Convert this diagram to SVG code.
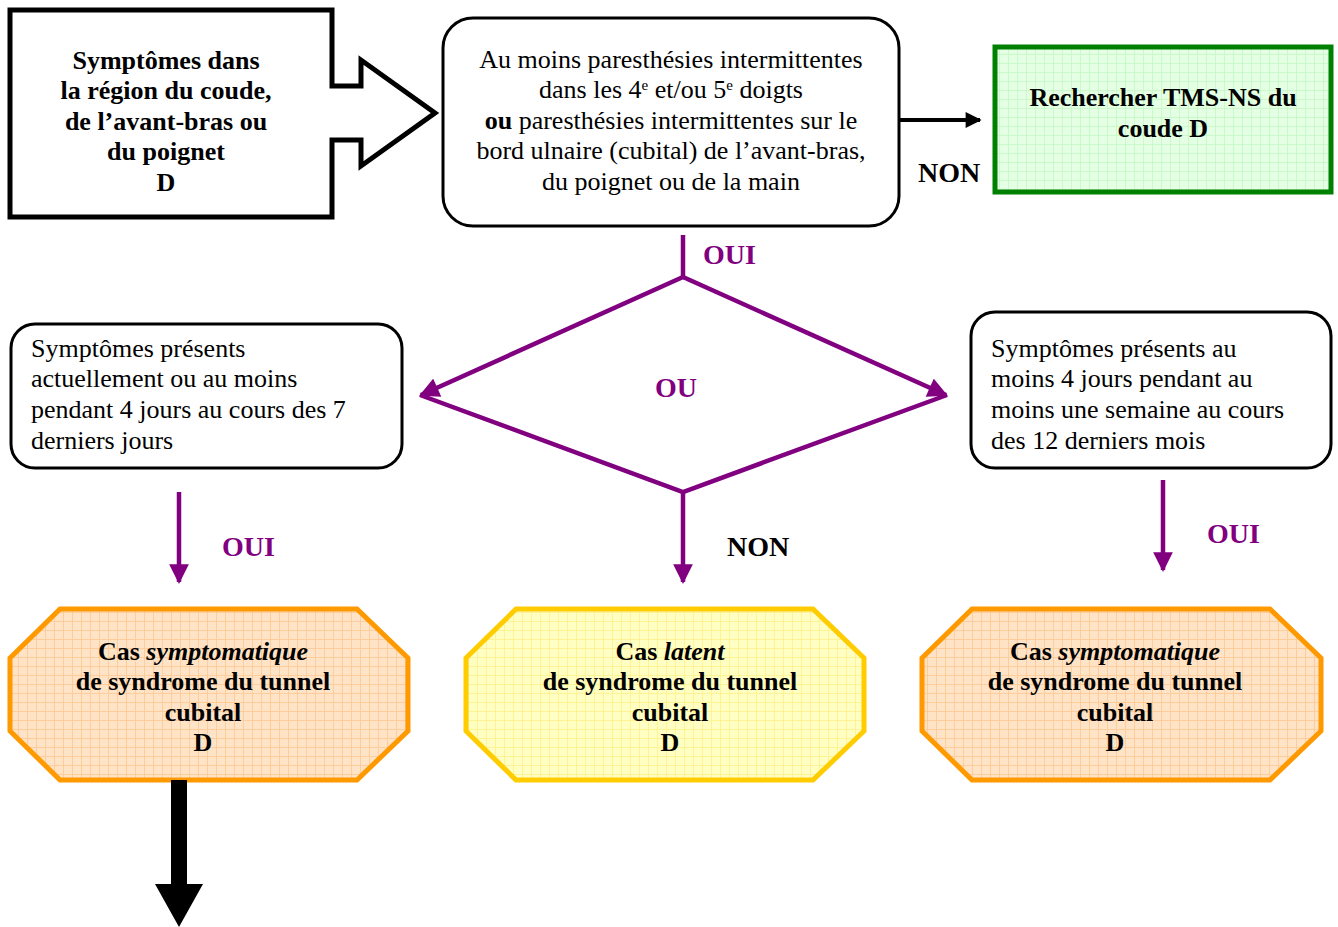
<svg xmlns="http://www.w3.org/2000/svg" width="1338" height="927" viewBox="0 0 1338 927">
  <defs>
    <pattern id="gridOrange" width="9" height="9" patternUnits="userSpaceOnUse">
      <rect width="9" height="9" fill="#ffe3c6"/>
      <path d="M0 0.5H9M0.5 0V9" stroke="#ffc890" stroke-width="0.8" fill="none"/>
    </pattern>
    <pattern id="gridYellow" width="9" height="9" patternUnits="userSpaceOnUse">
      <rect width="9" height="9" fill="#ffffc4"/>
      <path d="M0 0.5H9M0.5 0V9" stroke="#fff08a" stroke-width="0.8" fill="none"/>
    </pattern>
    <pattern id="gridGreen" width="9" height="9" patternUnits="userSpaceOnUse">
      <rect width="9" height="9" fill="#e4ffe4"/>
      <path d="M0 0.5H9M0.5 0V9" stroke="#c4f7c4" stroke-width="0.8" fill="none"/>
    </pattern>
    <marker id="headPurple" viewBox="0 0 10 10" refX="9" refY="5" markerWidth="4.6" markerHeight="4.4" markerUnits="strokeWidth" orient="auto">
      <path d="M0 0L10 5L0 10Z" fill="#800080"/>
    </marker>
    <marker id="headBlack" viewBox="0 0 10 10" refX="9" refY="5" markerWidth="4.6" markerHeight="4" markerUnits="strokeWidth" orient="auto">
      <path d="M0 0L10 5L0 10Z" fill="#000"/>
    </marker>
  </defs>
  <style>
    text { font-family: "Liberation Serif", "Times New Roman", serif; font-size: 26px; fill: #000; }
    .b { font-weight: bold; }
    .c { text-anchor: middle; }
    .lbl { font-weight: bold; font-size: 28px; }
    .pur { fill: #800080; }
    .box { fill: #fff; stroke: #000; stroke-width: 3; }
    .oct { stroke-width: 5; stroke-linejoin: miter; }
    .plink { stroke: #800080; stroke-width: 4.5; fill: none; }
  </style>

  <!-- Start: symptoms, drawn as a box with an outgoing block arrow -->
  <g id="start">
    <polygon points="10,10 332,10 332,86 361,86 361,60 435,113 361,166 361,140 332,140 332,217 10,217" fill="#fff" stroke="#000" stroke-width="5" stroke-linejoin="miter"/>
    <text class="b c" x="166" y="69">Symptômes dans</text>
    <text class="b c" x="166" y="99">la région du coude,</text>
    <text class="b c" x="166" y="130">de l’avant-bras ou</text>
    <text class="b c" x="166" y="160">du poignet</text>
    <text class="b c" x="166" y="191">D</text>
  </g>

  <!-- Main question -->
  <g id="paresthesies">
    <rect class="box" x="443" y="18" width="456" height="208" rx="30"/>
    <text class="c" x="671" y="68">Au moins paresthésies intermittentes</text>
    <text class="c" x="671" y="98">dans les 4<tspan font-size="15" baseline-shift="super">e</tspan> et/ou 5<tspan font-size="15" baseline-shift="super">e</tspan> doigts</text>
    <text class="c" x="671" y="129"><tspan class="b">ou</tspan> paresthésies intermittentes sur le</text>
    <text class="c" x="671" y="159">bord ulnaire (cubital) de l’avant-bras,</text>
    <text class="c" x="671" y="190">du poignet ou de la main</text>
  </g>

  <!-- Other MSD -->
  <g id="tms-ns">
    <rect x="995" y="47" width="336" height="145" fill="url(#gridGreen)" stroke="#008000" stroke-width="5"/>
    <text class="b c" x="1163" y="106">Rechercher TMS-NS du</text>
    <text class="b c" x="1163" y="137">coude D</text>
  </g>

  <!-- Duration criteria -->
  <g id="duree-7j">
    <rect class="box" x="11" y="324" width="391" height="144" rx="24"/>
    <text x="31" y="357">Symptômes présents</text>
    <text x="31" y="387">actuellement ou au moins</text>
    <text x="31" y="418">pendant 4 jours au cours des 7</text>
    <text x="31" y="449">derniers jours</text>
  </g>
  <g id="duree-12m">
    <rect class="box" x="971" y="312" width="360" height="156" rx="24"/>
    <text x="991" y="357">Symptômes présents au</text>
    <text x="991" y="387">moins 4 jours pendant au</text>
    <text x="991" y="418">moins une semaine au cours</text>
    <text x="991" y="449">des 12 derniers mois</text>
  </g>

  <!-- Outcomes -->
  <g id="cas-symptomatique-1">
    <polygon class="oct" points="60,609 357,609 408,658 408,731 357,780 60,780 10,731 10,658" fill="url(#gridOrange)" stroke="#ff9900"/>
    <text class="b c" x="203" y="660">Cas <tspan font-style="italic">symptomatique</tspan></text>
    <text class="b c" x="203" y="690">de syndrome du tunnel</text>
    <text class="b c" x="203" y="721">cubital</text>
    <text class="b c" x="203" y="751">D</text>
  </g>
  <g id="cas-latent">
    <polygon class="oct" points="516,609 813,609 864,658 864,731 813,780 516,780 466,731 466,658" fill="url(#gridYellow)" stroke="#ffcc00"/>
    <text class="b c" x="670" y="660">Cas <tspan font-style="italic">latent</tspan></text>
    <text class="b c" x="670" y="690">de syndrome du tunnel</text>
    <text class="b c" x="670" y="721">cubital</text>
    <text class="b c" x="670" y="751">D</text>
  </g>
  <g id="cas-symptomatique-2">
    <polygon class="oct" points="972,609 1270,609 1321,658 1321,731 1270,780 972,780 922,731 922,658" fill="url(#gridOrange)" stroke="#ff9900"/>
    <text class="b c" x="1115" y="660">Cas <tspan font-style="italic">symptomatique</tspan></text>
    <text class="b c" x="1115" y="690">de syndrome du tunnel</text>
    <text class="b c" x="1115" y="721">cubital</text>
    <text class="b c" x="1115" y="751">D</text>
  </g>

  <!-- Connectors -->
  <g id="connectors">
    <line x1="899" y1="120" x2="980" y2="120" stroke="#000" stroke-width="4" marker-end="url(#headBlack)"/>
    <line class="plink" x1="683" y1="235" x2="683" y2="279"/>
    <line class="plink" x1="683" y1="277" x2="421" y2="395" marker-end="url(#headPurple)"/>
    <line class="plink" x1="683" y1="277" x2="946" y2="395" marker-end="url(#headPurple)"/>
    <polyline class="plink" points="420,395 683,492 947,395" stroke-linejoin="miter"/>
    <line class="plink" x1="683" y1="490" x2="683" y2="582" marker-end="url(#headPurple)"/>
    <line class="plink" x1="179" y1="492" x2="179" y2="582" marker-end="url(#headPurple)"/>
    <line class="plink" x1="1163" y1="480" x2="1163" y2="570" marker-end="url(#headPurple)"/>
    <polygon points="171,780 187,780 187,884 203,884 179,927 155,884 171,884" fill="#000"/>
    <text class="lbl" x="918" y="182">NON</text>
    <text class="lbl pur" x="703" y="264">OUI</text>
    <text class="lbl pur c" x="676" y="397">OU</text>
    <text class="lbl pur" x="222" y="556">OUI</text>
    <text class="lbl" x="727" y="556">NON</text>
    <text class="lbl pur" x="1207" y="543">OUI</text>
  </g>
</svg>
